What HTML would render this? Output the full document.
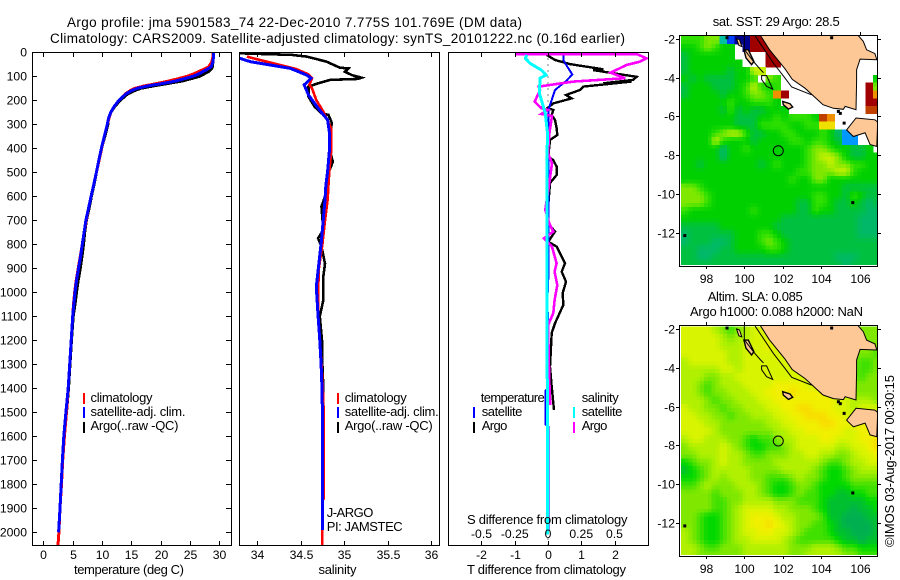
<!DOCTYPE html>
<html lang="en">
<head>
<meta charset="utf-8">
<title>Argo profile 5901583_74</title>
<style>
html,body{margin:0;padding:0;background:#fff;}
svg{display:block;}
text{font-family:"Liberation Sans",sans-serif;font-size:13px;fill:#000;}
text.tick{font-size:12.2px;}
text.head{font-size:13.5px;}
.frame{fill:none;stroke:#000;stroke-width:1;shape-rendering:crispEdges;}
.curve{fill:none;stroke-linejoin:miter;shape-rendering:crispEdges;}
.key{stroke-width:2;shape-rendering:crispEdges;}
</style>
</head>
<body>
<svg id="chart" xmlns="http://www.w3.org/2000/svg" width="900" height="580" viewBox="0 0 900 580">
<defs>
<clipPath id="clip-temp"><rect x="32" y="52" width="200" height="494"/></clipPath>
<clipPath id="clip-sal"><rect x="239" y="52" width="201" height="494"/></clipPath>
<clipPath id="clip-diff"><rect x="448" y="52" width="201" height="494"/></clipPath>
<clipPath id="clip-sst"><rect x="681" y="36" width="196" height="229"/></clipPath>
<clipPath id="clip-sla"><rect x="681" y="326" width="196" height="229"/></clipPath>
</defs>

<text class="head" x="67" y="27" textLength="455" lengthAdjust="spacing">Argo profile: jma 5901583_74 22-Dec-2010 7.775S 101.769E (DM data)</text>
<text class="head" x="50" y="43" textLength="575" lengthAdjust="spacing">Climatology: CARS2009. Satellite-adjusted climatology: synTS_20101222.nc (0.16d earlier)</text>

<g id="layer-maps"></g>
<g id="layer-curves"></g>
<g id="layer-ticks"></g>

<rect class="frame" x="32.5" y="52.5" width="199" height="493"/>
<rect class="frame" x="239.5" y="52.5" width="200" height="493"/>
<rect class="frame" x="448.5" y="52.5" width="200" height="493"/>
<rect class="frame" x="679.5" y="35.5" width="198" height="231"/>
<rect class="frame" x="679.5" y="325.5" width="198" height="231"/>

<text x="74" y="574" textLength="110" lengthAdjust="spacing">temperature (deg C)</text>
<text x="318.5" y="574" textLength="38" lengthAdjust="spacing">salinity</text>
<text x="467" y="524" textLength="160.5" lengthAdjust="spacing">S difference from climatology</text>
<text x="467" y="574" textLength="159" lengthAdjust="spacing">T difference from climatology</text>

<g>
<line class="key" x1="84" x2="84" y1="393" y2="404" stroke="#f00"/>
<line class="key" x1="84" x2="84" y1="407" y2="418" stroke="#00f"/>
<line class="key" x1="84" x2="84" y1="422" y2="433" stroke="#000"/>
<text x="90.5" y="402" textLength="62" lengthAdjust="spacing">climatology</text>
<text x="90.5" y="416" textLength="95" lengthAdjust="spacing">satellite-adj. clim.</text>
<text x="90.5" y="430" textLength="88" lengthAdjust="spacing">Argo(..raw -QC)</text>
</g>
<g>
<line class="key" x1="338" x2="338" y1="393" y2="404" stroke="#f00"/>
<line class="key" x1="338" x2="338" y1="407" y2="418" stroke="#00f"/>
<line class="key" x1="338" x2="338" y1="422" y2="433" stroke="#000"/>
<text x="344.7" y="402" textLength="62" lengthAdjust="spacing">climatology</text>
<text x="344.7" y="416" textLength="94" lengthAdjust="spacing">satellite-adj. clim.</text>
<text x="344.7" y="430" textLength="88" lengthAdjust="spacing">Argo(..raw -QC)</text>
</g>
<text x="326.7" y="517" textLength="46.7" lengthAdjust="spacing">J-ARGO</text>
<text x="326.7" y="531" textLength="76" lengthAdjust="spacing">PI: JAMSTEC</text>

<g>
<text x="480.7" y="402" textLength="64" lengthAdjust="spacing">temperature</text>
<text x="581.7" y="402" textLength="37" lengthAdjust="spacing">salinity</text>
<line class="key" x1="474" x2="474" y1="407" y2="418" stroke="#00f"/>
<line class="key" x1="474" x2="474" y1="422" y2="433" stroke="#000"/>
<line class="key" x1="574" x2="574" y1="407" y2="418" stroke="#0ff"/>
<line class="key" x1="574" x2="574" y1="422" y2="433" stroke="#f0f"/>
<text x="481.7" y="416" textLength="40.7" lengthAdjust="spacing">satellite</text>
<text x="481.7" y="430" textLength="25.7" lengthAdjust="spacing">Argo</text>
<text x="581.7" y="416" textLength="40.7" lengthAdjust="spacing">satellite</text>
<text x="581.7" y="430" textLength="25.7" lengthAdjust="spacing">Argo</text>
</g>

<text x="712.7" y="26" textLength="127" lengthAdjust="spacing">sat. SST: 29 Argo: 28.5</text>
<text x="707.7" y="301" textLength="95" lengthAdjust="spacing">Altim. SLA: 0.085</text>
<text x="690" y="316" textLength="173" lengthAdjust="spacing">Argo h1000: 0.088 h2000: NaN</text>
<text transform="translate(894 547) rotate(-90)" textLength="172" lengthAdjust="spacing">©IMOS 03-Aug-2017 00:30:15</text>
</svg>

<script>
// ---------- temperature profile ----------
const tempDepths = [0,20,40,60,70,80,90,100,110,120,130,140,150,160,175,200,225,250,275,300,350,400,450,500,550,600,650,700,750,800,850,900,950,1000,1050,1100,1200,1300,1400,1500,1600,1700,1800,1900,2000,2055];
const tempClim = [28.9,28.9,28.7,28.2,27.4,26.5,25.6,24.5,23.0,21.3,19.4,17.2,15.6,14.8,13.9,12.9,12.1,11.5,11.2,10.9,10.4,9.95,9.5,9.05,8.6,8.15,7.7,7.3,6.95,6.65,6.3,5.95,5.6,5.35,5.15,5.0,4.75,4.5,4.25,3.95,3.6,3.3,3.1,2.85,2.65,2.5];
const tempSat = [29.0,29.0,28.9,28.6,28.0,27.2,26.5,25.5,24.0,22.5,20.3,17.8,16.0,15.0,14.0,12.9,12.1,11.5,11.1,10.9,10.4,9.9,9.45,9.05,8.6,8.15,7.7,7.25,6.95,6.65,6.35,6.0,5.65,5.4,5.2,5.0,4.75,4.5,4.25,3.85,3.5,3.25,3.05,2.85,2.6];
const tempArgo = [28.9,28.9,28.9,28.8,28.6,28.2,27.4,26.6,25.2,23.6,21.2,18.8,16.6,15.5,14.3,13.1,12.2,11.5,11.1,11.0,10.5,9.9,9.45,9.05,8.65,8.2,7.8,7.35,7.05,6.85,6.6,6.3,5.95,5.65,5.4,5.1,4.8,4.55,4.3,3.95];

// ---------- salinity profile ----------
const salClimDepths = [18,32,53,70,92,108,136,150,199,247,317,414,497,550,615,700,800,900,1000,1100,1200,1300,1400,1500,1860,1865,2055];
const salClim = [33.88,34.03,34.26,34.45,34.59,34.63,34.60,34.63,34.68,34.76,34.85,34.85,34.83,34.82,34.81,34.78,34.75,34.71,34.70,34.70,34.72,34.74,34.755,34.765,34.765,34.75,34.75];
const salSatDepths = [25,39,53,67,95,108,136,178,233,282,331,414,497,553,615,782,977,1100,1200,1300,1400,1500,1990];
const salSat = [33.8,33.92,34.15,34.38,34.57,34.62,34.54,34.59,34.70,34.81,34.83,34.83,34.81,34.79,34.78,34.74,34.68,34.70,34.72,34.735,34.745,34.75,34.75];
const salArgoDepths = [4,11,18,39,64,67,81,95,106,111,115,129,143,185,227,254,261,296,331,414,456,503,600,643,740,775,810,880,935,1033,1100,1200,1300,1400,1470];
const salArgo = [33.8,34.40,34.57,34.80,34.95,35.05,35.01,35.09,35.20,35.16,34.84,34.70,34.59,34.59,34.66,34.74,34.82,34.86,34.84,34.84,34.87,34.82,34.78,34.74,34.76,34.70,34.74,34.78,34.76,34.76,34.72,34.745,34.75,34.76,34.76];

// ---------- differences from climatology ----------
const diffTempSatDepths = [7,32,60,92,118,157,199,240,300,500,700,900,1050,1150,1400,1410,1550,1560,1990];
const diffTempSat = [0.46,0.46,0.58,0.73,0.56,0.21,0.11,0.01,0.02,0.02,0.01,0.02,-0.02,0.02,0.02,-0.08,-0.08,0.02,0.02];
const diffTempArgoDepths = [11,32,49,71,74,85,102,115,129,122,143,157,178,192,213,233,240,261,282,317,345,365,435,449,477,511,545,650,713,747,789,810,879,914,956,1003,1053,1129,1170,1254,1310,1393,1490];
const diffTempArgo = [-0.04,0.21,0.66,1.66,1.36,1.86,2.66,2.56,1.66,2.5,1.06,0.96,0.54,0.71,0.16,-0.02,0.16,0.11,0.21,0.26,0.28,0.06,0.01,0.16,0.26,0.26,0.06,0.0,0.01,0.21,0.01,0.26,0.51,0.41,0.54,0.44,0.46,0.21,0.11,0.08,0.06,0.11,0.18];
const diffSalSatDepths = [11,25,46,74,95,108,171,254,330,900,1250,2010];
const diffSalSat = [-0.16,-0.17,-0.135,-0.05,-0.015,-0.06,-0.065,-0.02,-0.005,-0.008,-0.006,-0.003];
const diffSalArgoDepths = [7,8,25,39,53,85,108,122,143,157,206,233,240,257,265,340,420,463,545,656,713,747,775,810,879,914,970,1032,1087,1137,1367,1450,1470];
const diffSalArgo = [-0.25,0.67,0.74,0.69,0.59,0.47,0.58,0.19,-0.07,-0.06,-0.10,-0.05,0.0,-0.05,0.03,0.01,0.0,0.03,0.01,-0.02,0.01,0.04,-0.03,0.03,0.065,0.05,0.07,0.05,0.04,0.0,0.01,0.015,0.015];

// ---------- tick labels ----------
const depthTicks = [0,100,200,300,400,500,600,700,800,900,1000,1100,1200,1300,1400,1500,1600,1700,1800,1900,2000];
const tempTicks = [0,5,10,15,20,25,30];
const salTicks = [34,34.5,35,35.5,36];
const diffTempTicks = [-2,-1,0,1,2];
const diffSalTicks = [-0.5,-0.25,0,0.25,0.5];
const lonTicks = [98,100,102,104,106];
const latTicks = [-2,-4,-6,-8,-10,-12];

// ---------- SST map: colour level per 0.4 degree cell, _ = no data ----------
const _ = null;
const sstLevels = [
[7,7,7,8,8,3,1,0,0,13,13,_,_,_,_,_,_,_,_,_,_,_,_,_,_,_],
[6,6,7,8,7,6,6,_,0,13,13,13,_,_,_,_,_,_,_,_,_,_,_,_,_,_],
[5,6,6,6,6,6,6,_,_,_,_,13,13,_,_,_,_,_,_,_,_,_,_,_,_,_],
[5,6,6,6,6,6,6,6,_,_,_,13,13,_,_,_,_,_,_,_,_,_,_,_,_,_],
[5,6,6,6,6,6,5,6,6,9,9,_,_,_,_,_,_,_,_,_,_,_,_,_,_,_],
[6,5,6,5,5,5,5,6,6,7,_,8,7,_,_,_,_,_,_,_,_,_,_,_,_,6],
[5,6,6,6,5,5,5,6,7,9,7,6,7,_,_,_,_,_,_,_,_,_,_,_,13,8],
[5,6,6,6,6,5,6,6,7,8,8,7,11,13,_,_,_,_,_,_,_,_,_,_,13,11],
[6,6,6,6,6,6,7,6,6,7,7,7,6,_,_,_,_,_,_,_,_,_,_,_,13,13],
[6,6,6,6,6,5,7,5,6,5,5,6,6,6,_,_,_,_,_,_,_,_,_,_,12,12],
[6,6,6,6,6,6,6,5,5,5,6,6,7,6,7,7,7,6,12,11,_,_,_,_,_,_],
[6,6,6,6,6,6,6,5,5,5,7,7,7,7,6,6,7,7,10,10,_,_,_,_,_,_],
[6,6,6,6,7,8,9,9,7,5,5,6,6,7,7,6,6,6,7,6,4,2,2,_,_,_],
[6,6,6,6,9,7,6,6,6,5,6,6,6,6,7,7,6,7,7,6,5,2,2,_,_,_],
[6,6,6,6,6,4,6,6,7,6,6,6,6,6,6,6,7,8,8,7,6,6,5,5,6,_],
[6,6,6,6,6,4,6,6,6,6,6,6,6,6,6,6,7,8,9,9,8,6,5,5,6,6],
[6,6,5,6,6,6,6,6,6,6,5,6,7,6,6,6,7,8,8,9,8,8,7,7,6,6],
[6,6,6,6,6,6,6,6,6,6,6,6,6,6,6,7,7,8,8,8,9,9,7,6,6,6],
[6,6,6,6,6,6,6,6,6,6,6,6,6,6,7,6,6,8,8,6,6,6,6,6,6,6],
[8,8,7,6,6,6,6,6,6,6,6,6,6,6,6,6,6,6,6,6,6,5,5,5,5,5],
[8,8,8,7,6,6,6,6,6,6,6,6,6,6,6,6,6,7,7,6,6,5,7,6,5,5],
[8,8,8,7,6,6,6,6,6,6,6,6,6,6,6,5,5,7,7,6,5,5,6,5,4,5],
[7,6,6,6,6,6,6,6,6,7,6,6,6,6,6,5,5,7,6,6,5,5,5,5,4,4],
[6,6,6,6,6,6,6,6,6,6,6,6,6,5,5,5,5,5,5,5,5,5,5,4,4,4],
[5,5,5,5,5,6,6,6,6,6,6,6,5,5,5,5,5,5,5,5,5,5,5,4,4,4],
[4,5,5,5,5,5,5,6,6,6,7,7,6,5,5,5,5,5,5,5,5,5,5,4,4,4],
[4,5,5,5,4,4,5,6,6,6,7,8,7,6,5,5,5,5,5,5,5,5,5,5,5,5],
[5,5,4,4,4,5,5,6,6,6,6,7,7,6,5,5,5,5,5,5,5,5,5,5,5,5],
[5,5,4,4,5,5,5,5,5,5,5,5,5,5,5,5,5,5,5,5,4,4,4,5,5,5],
[5,5,5,5,5,5,5,5,5,5,5,5,5,5,5,5,5,5,5,5,5,4,5,5,5,5]
];
const sstColors = ["#000090","#0040ff","#0098ff","#00c0a0","#00b868","#00c040","#00d000","#30e000","#80e800","#c8f000","#f0e000","#f09000","#c04000","#a00000"];

// ---------- altimetry SLA map: colour level per 0.4 degree cell ----------
const slaLevels = [
[6,6,6,6,5,4,3,4,5,6,6,6,6,6,6,6,6,6,6,6,6,6,4,4,4,4],
[6,6,6,6,6,5,4,5,5,6,6,6,6,6,6,6,6,6,6,6,6,6,4,4,4,4],
[6,6,6,6,6,5,5,5,6,6,6,7,6,6,6,6,6,6,6,6,6,6,4,4,4,4],
[6,6,6,6,6,6,5,5,6,6,6,6,6,6,6,6,6,6,6,6,6,6,4,4,4,3],
[5,6,6,6,6,6,5,5,6,6,6,6,6,6,6,6,6,6,6,6,6,6,4,3,3,4],
[5,5,5,5,5,6,6,5,6,6,6,6,6,6,6,6,6,6,6,6,6,6,4,3,3,4],
[5,5,5,4,4,5,5,6,6,6,6,6,6,6,6,6,6,6,6,6,6,6,4,3,4,4],
[5,5,4,3,4,5,5,5,6,6,6,6,7,7,7,7,6,6,6,6,6,6,4,4,4,4],
[5,5,4,3,4,4,5,5,5,6,6,7,7,7,8,7,7,7,7,6,6,6,4,4,4,4],
[5,5,5,4,3,4,4,5,5,5,6,6,7,7,7,7,7,7,7,7,6,6,5,5,5,4],
[6,5,5,4,4,3,4,4,5,5,5,6,6,7,7,8,8,7,7,7,6,6,5,6,6,6],
[6,6,5,5,4,4,3,4,4,5,5,5,6,6,7,7,8,8,8,7,7,6,6,6,6,6],
[6,6,6,5,5,4,4,4,4,4,4,5,5,6,6,7,7,7,8,8,7,7,7,7,7,7],
[6,6,6,6,5,4,4,4,4,4,4,4,5,5,6,6,7,7,7,7,7,6,6,7,7,7],
[5,6,6,5,5,5,4,4,3,2,3,3,4,5,5,6,6,6,7,7,6,6,6,7,7,8],
[4,5,5,5,5,6,5,4,3,2,2,3,3,4,5,6,6,6,6,6,5,5,6,6,7,8],
[4,4,5,5,5,6,5,5,4,3,3,4,4,4,5,5,6,6,5,5,4,4,5,6,6,7],
[2,3,4,4,5,6,5,5,4,4,4,4,5,5,5,5,5,5,4,3,3,4,5,5,6,6],
[1,2,3,4,5,5,5,5,5,4,4,4,4,5,5,5,5,4,3,2,2,3,4,5,5,5],
[2,2,3,4,5,4,5,5,5,4,4,3,3,3,4,5,4,4,3,2,2,3,4,4,4,4],
[3,3,4,5,4,4,4,5,5,5,4,3,2,2,3,4,4,3,2,2,2,2,3,3,3,3],
[4,4,4,4,3,4,4,4,5,5,4,3,2,2,3,4,3,3,2,2,1,1,2,2,3,3],
[4,4,4,4,3,3,4,4,5,5,5,5,4,4,4,3,3,3,2,1,1,1,1,1,2,2],
[4,4,4,4,3,3,4,5,6,6,6,6,5,5,4,4,4,3,2,1,1,1,0,1,1,2],
[4,4,3,2,2,3,4,5,6,7,7,7,6,5,5,4,4,4,3,1,1,0,0,0,1,1],
[4,4,3,2,2,3,4,5,6,7,7,8,7,6,5,4,4,3,3,2,1,0,0,0,0,1],
[5,4,3,2,2,3,4,5,6,6,7,7,6,6,5,4,3,3,3,2,1,1,0,0,0,1],
[5,4,3,2,2,3,4,5,5,6,6,6,6,5,4,3,3,3,3,3,2,1,1,0,1,1],
[5,5,4,3,3,4,4,4,5,5,5,5,5,5,4,4,4,5,5,5,4,3,3,2,2,2],
[5,5,4,4,4,4,4,4,5,5,5,5,5,5,4,4,5,5,5,5,5,4,4,3,3,3]
];
const slaColors = ["#00b050","#00c030","#00d800","#40e000","#80e800","#b0f000","#d8f400","#f0f000","#f8dc00"];

// ---------- geography (lon, lat) ----------
const sumatraLon = [100.82,101.3,102.12,102.5,103.16,104.1,104.64,105.16,105.25,105.82,105.85,105.85,106.03,106.9,106.8,106.37,106.2,105.9];
const sumatraLat = [-1.8,-2.55,-3.55,-4.1,-4.55,-5.4,-5.59,-5.64,-5.49,-5.66,-4.2,-3.6,-3.05,-3.08,-2.77,-2.57,-2.14,-1.8];
const javaLon = [105.82,106.8,106.95,106.9,106.55,106.29,105.68,105.33];
const javaLat = [-6.09,-6.18,-6.3,-7.55,-7.46,-6.85,-7.04,-6.7];
const isobathLon = [100.56,101.51,102.12,102.47,103.5];
const isobathLat = [-1.85,-3.25,-4.03,-4.49,-4.89];
const islandSiberutLon = [99.6,99.75,99.87,99.72];
const islandSiberutLat = [-2.0,-2.05,-2.4,-2.35];
const islandPagaiLon = [99.98,100.21,100.5,100.38,100.09];
const islandPagaiLat = [-2.57,-2.57,-3.17,-3.34,-2.99];
const islandEngganoLon = [102,102.38,102.52,102.3,102.03];
const islandEngganoLat = [-5.23,-5.35,-5.52,-5.63,-5.4];
const islandOutlineLon = [100.9,101.16,101.48,101.16,100.9];
const islandOutlineLat = [-3.9,-3.9,-4.6,-4.46,-4.1];
const reefLineLon = [100.0,100.0,100.5,100.85,101.0];
const reefLineLat = [-1.8,-2.55,-3.2,-3.6,-3.75];
const dotLon = [105.65,96.9,99.1,104.55,104.9,105.0,105.2];
const dotLat = [-10.45,-12.15,-1.95,-1.95,-5.75,-5.85,-6.35];
const profileLon = 101.769;
const profileLat = -7.775;

// ---------- scales ----------
function depthY(d){return 52.3+d*0.24;}
function tempX(t){return 43.3+t*5.87;}
function salX(s){return 257.3+(s-34)*86.8;}
function diffTX(t){return 548+t*33.3;}
function diffSX(s){return 548+s*133;}
function lonX(lon){return 744.3+(lon-100)*19.2;}
function latY(lat,top){return top+(-2-lat)*19.4;}

const svgNS='http://www.w3.org/2000/svg';
const curvesLayer=document.getElementById('layer-curves');
const ticksLayer=document.getElementById('layer-ticks');
const mapsLayer=document.getElementById('layer-maps');

function drawProfile(depths,values,xFn,color,width,clip,name){
  const pts=[];
  for(let i=0;i<values.length&&i<depths.length;i++){
    pts.push(xFn(values[i]).toFixed(1)+','+depthY(depths[i]).toFixed(1));
  }
  const el=document.createElementNS(svgNS,'polyline');
  el.setAttribute('class','curve');
  el.setAttribute('points',pts.join(' '));
  el.setAttribute('stroke',color);
  el.setAttribute('stroke-width',width);
  el.setAttribute('clip-path','url(#'+clip+')');
  
  
  curvesLayer.appendChild(el);
}
function tickLine(x1,y1,x2,y2){
  const el=document.createElementNS(svgNS,'line');
  el.setAttribute('x1',x1);el.setAttribute('y1',y1);
  el.setAttribute('x2',x2);el.setAttribute('y2',y2);
  el.setAttribute('stroke','#000');
  el.setAttribute('shape-rendering','crispEdges');
  
  
  ticksLayer.appendChild(el);
}
function tickLabel(x,y,str,anchor){
  const el=document.createElementNS(svgNS,'text');
  el.setAttribute('class','tick');
  el.setAttribute('x',x);el.setAttribute('y',y);
  el.setAttribute('text-anchor',anchor);
  el.textContent=str;
  
  
  ticksLayer.appendChild(el);
}

// reference zero line
(function(){
  const el=document.createElementNS(svgNS,'line');
  el.setAttribute('x1',diffTX(0));el.setAttribute('x2',diffTX(0));
  el.setAttribute('y1',depthY(0));el.setAttribute('y2',545);
  el.setAttribute('stroke','#000');el.setAttribute('stroke-dasharray','1 5');
  el.setAttribute('shape-rendering','crispEdges');
  
  
  curvesLayer.appendChild(el);
})();

drawProfile(tempDepths,tempArgo,tempX,'#000',3,'clip-temp','temperature-argo-line');
drawProfile(tempDepths,tempClim,tempX,'#f00',3,'clip-temp','temperature-climatology-line');
drawProfile(tempDepths,tempSat,tempX,'#00f',3,'clip-temp','temperature-satellite-line');

drawProfile(salArgoDepths,salArgo,salX,'#000',2.6,'clip-sal','salinity-argo-line');
drawProfile(salClimDepths,salClim,salX,'#f00',2.6,'clip-sal','salinity-climatology-line');
drawProfile(salSatDepths,salSat,salX,'#00f',3,'clip-sal','salinity-satellite-line');

drawProfile(diffTempArgoDepths,diffTempArgo,diffTX,'#000',2.4,'clip-diff','t-difference-argo-line');
drawProfile(diffTempSatDepths,diffTempSat,diffTX,'#00f',2,'clip-diff','t-difference-satellite-line');
drawProfile(diffSalArgoDepths,diffSalArgo,diffSX,'#f0f',2.6,'clip-diff','s-difference-argo-line');
drawProfile(diffSalSatDepths,diffSalSat,diffSX,'#0ff',3,'clip-diff','s-difference-satellite-line');

// ticks
depthTicks.forEach(function(d){
  const y=Math.round(depthY(d))+0.5;
  tickLine(32,y,37,y);
  tickLine(226,y,231,y);
  tickLabel(27,y+4,String(d),'end');
});
tempTicks.forEach(function(t){
  const x=Math.round(tempX(t))+0.5;
  tickLine(x,52,x,57);
  tickLine(x,541,x,545);
  tickLabel(x,559,String(t),'middle');
});
salTicks.forEach(function(s){
  const x=Math.round(salX(s))+0.5;
  tickLine(x,52,x,57);
  tickLine(x,541,x,545);
  tickLabel(x,559,String(s),'middle');
});
diffTempTicks.forEach(function(t){
  const x=Math.round(diffTX(t))+0.5;
  tickLine(x,52,x,57);
  tickLine(x,541,x,545);
  tickLabel(x,559,String(t),'middle');
});
diffSalTicks.forEach(function(s){
  tickLabel(diffSX(s),538,String(s),'middle');
});

function hexRgb(h){return [parseInt(h.substr(1,2),16),parseInt(h.substr(3,2),16),parseInt(h.substr(5,2),16)];}
function levelColor(colors,v){
  const a=Math.floor(v),b=Math.min(a+1,colors.length-1),f=v-a;
  const ca=hexRgb(colors[a]),cb=hexRgb(colors[b]);
  return 'rgb('+Math.round(ca[0]+(cb[0]-ca[0])*f)+','+Math.round(ca[1]+(cb[1]-ca[1])*f)+','+Math.round(ca[2]+(cb[2]-ca[2])*f)+')';
}
// value at a half-cell position, blended with neighbours that are in the smooth part of the scale
function subcellValue(levels,r,c,dr,dc,lo,hi){
  const v=levels[r][c];
  if(v<lo||v>hi) return v;
  function n(rr,cc){
    if(rr<0||rr>=levels.length||cc<0||cc>=levels[rr].length) return v;
    const w=levels[rr][cc];
    return (w===null||w<lo||w>hi)?v:w;
  }
  const vr=n(r+dr,c),vc=n(r,c+dc),vd=n(r+dr,c+dc);
  return 0.5625*v+0.1875*vr+0.1875*vc+0.0625*vd;
}

function drawMap(levels,colors,lo,hi,top,frameTop,frameBottom,clip,name){
  const g=document.createElementNS(svgNS,'g');
  g.setAttribute('clip-path','url(#'+clip+')');
  
  
  mapsLayer.appendChild(g);
  for(let r=0;r<levels.length;r++){
    for(let c=0;c<levels[r].length;c++){
      if(levels[r][c]===null) continue;
      for(let j=0;j<2;j++){
        for(let i=0;i<2;i++){
          const val=subcellValue(levels,r,c,j?1:-1,i?1:-1,lo,hi);
          const cell=document.createElementNS(svgNS,'rect');
          cell.setAttribute('x',lonX(96.7+0.4*c+0.2*i).toFixed(2));
          cell.setAttribute('y',latY(-1.87-0.4*r-0.2*j,top).toFixed(2));
          cell.setAttribute('width',4.2);
          cell.setAttribute('height',4.2);
          cell.setAttribute('fill',levelColor(colors,val));
          cell.setAttribute('shape-rendering','crispEdges');
          
          
          g.appendChild(cell);
        }
      }
    }
  }
  function shape(lons,lats,fill,closed,widthPx,shapeName){
    const pts=lons.map(function(lo2,i){return lonX(lo2).toFixed(1)+','+latY(lats[i],top).toFixed(1);}).join(' ');
    const el=document.createElementNS(svgNS,closed?'polygon':'polyline');
    el.setAttribute('points',pts);
    el.setAttribute('fill',fill);
    el.setAttribute('stroke','#000');
    el.setAttribute('stroke-width',widthPx);
    
    
    g.appendChild(el);
  }
  shape(sumatraLon,sumatraLat,'#fdc896',true,1,'sumatra-land');
  shape(javaLon,javaLat,'#fdc896',true,1,'java-land');
  shape(islandSiberutLon,islandSiberutLat,'#fdc896',true,1,'island');
  shape(islandPagaiLon,islandPagaiLat,'#fdc896',true,1.4,'island');
  shape(islandEngganoLon,islandEngganoLat,'#fdc896',true,1.4,'island');
  shape(islandOutlineLon,islandOutlineLat,'none',true,1,'island-outline');
  shape(isobathLon,isobathLat,'none',false,1,'coastal-contour');
  shape(reefLineLon,reefLineLat,'none',false,1,'island-chain-contour');
  dotLon.forEach(function(lo2,i){
    const dot=document.createElementNS(svgNS,'rect');
    dot.setAttribute('x',lonX(lo2)-1.5);
    dot.setAttribute('y',latY(dotLat[i],top)-1.5);
    dot.setAttribute('width',3);
    dot.setAttribute('height',3);
    dot.setAttribute('fill','#000');
    
    
    g.appendChild(dot);
  });
  const marker=document.createElementNS(svgNS,'circle');
  marker.setAttribute('cx',lonX(profileLon));
  marker.setAttribute('cy',latY(profileLat,top));
  marker.setAttribute('r',5);
  marker.setAttribute('fill','none');
  marker.setAttribute('stroke','#000');
  
  
  g.appendChild(marker);

  lonTicks.forEach(function(lon){
    const x=Math.round(lonX(lon))+0.5;
    tickLine(x,frameTop-3,x,frameTop);
    tickLine(x,frameBottom,x,frameBottom+3);
    tickLabel(x,frameBottom+17,String(lon),'middle');
  });
  latTicks.forEach(function(la){
    const y=Math.round(latY(la,top))+0.5;
    tickLine(676,y,680,y);
    tickLine(877,y,881,y);
    tickLabel(675,y+4,String(la),'end');
  });
}
drawMap(sstLevels,sstColors,4,9,38.7,35,266,'clip-sst','sst-heatmap');
drawMap(slaLevels,slaColors,0,8,329,325,556,'clip-sla','sla-heatmap');
</script>
</body>
</html>
